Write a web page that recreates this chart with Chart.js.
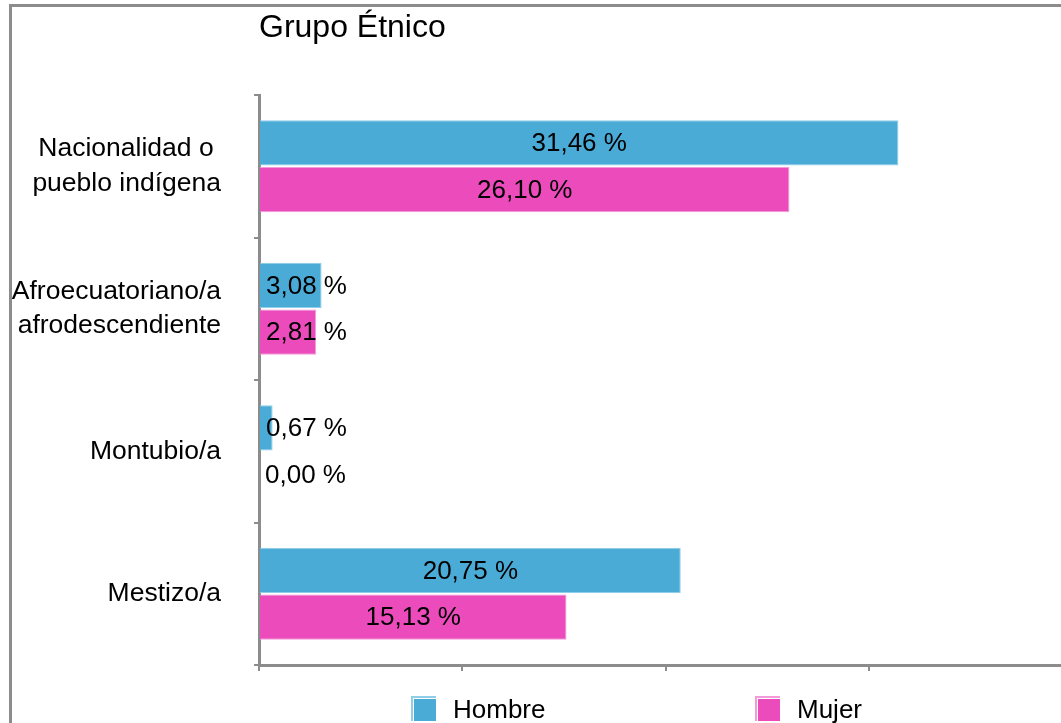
<!DOCTYPE html>
<html lang="es">
<head>
<meta charset="UTF-8">
<title>Grupo Étnico</title>
<script src="https://cdn.jsdelivr.net/npm/chart.js"></script>
<style>
  html, body { margin: 0; padding: 0; background: #fff; overflow: hidden; }
  .frame { position: absolute; left: 9px; top: 4px; width: 1200px; height: 900px;
           border-left: 3px solid #8c8c8c; border-top: 3px solid #8c8c8c; }
  #chart { position: absolute; left: 0; top: 0; }
</style>
</head>
<body>
<div class="frame"></div>
<canvas id="chart" width="1072" height="723"></canvas>
<script>
const categories = [['Nacionalidad o ', 'pueblo indígena'], ['Afroecuatoriano/a', 'afrodescendiente'], 'Montubio/a', 'Mestizo/a'];
const seriesNames = ['Hombre', 'Mujer'];
const hombre = [31.46, 3.08, 0.67, 20.75];
const mujer = [26.10, 2.81, 0.00, 15.13];
const xTicks = [0, 10, 20, 30, 40];

const FONT = '"Liberation Sans", Arial, sans-serif';
const AXIS = '#8c8c8c';

// value labels: centred inside the bar when they fit, else just after the base
const barLabels = {
  id: 'barLabels',
  afterDatasetsDraw(chart) {
    const ctx = chart.ctx;
    ctx.save();
    ctx.font = '26px ' + FONT;
    ctx.fillStyle = '#000';
    ctx.textBaseline = 'middle';
    chart.data.datasets.forEach((ds, i) => {
      chart.getDatasetMeta(i).data.forEach((bar, j) => {
        const txt = ds.data[j].toFixed(2).replace('.', ',') + ' %';
        const w = ctx.measureText(txt).width;
        const len = bar.x - bar.base;
        if (w + 10 < len) {
          ctx.textAlign = 'center';
          ctx.fillText(txt, (bar.x + bar.base) / 2, bar.y + 1);
        } else {
          ctx.textAlign = 'left';
          ctx.fillText(txt, bar.base + 6, bar.y + 1);
        }
      });
    });
    ctx.restore();
  }
};

// title at the plot's left edge and a spread-out legend at the bottom
const extras = {
  id: 'extras',
  afterDraw(chart) {
    const ctx = chart.ctx;
    const area = chart.chartArea;
    ctx.save();
    ctx.fillStyle = '#000';
    ctx.textAlign = 'left';
    ctx.textBaseline = 'alphabetic';
    ctx.font = '32px ' + FONT;
    ctx.fillText('Grupo Étnico', area.left, 37);

    const startX = [411, 755];
    ctx.font = '26px ' + FONT;
    chart.data.datasets.forEach((ds, i) => {
      const x = startX[i], y = 696;
      ctx.fillStyle = ds.borderColor;
      ctx.fillRect(x, y, 25, 25);
      ctx.fillStyle = '#fff';
      ctx.fillRect(x + 2, y + 2, 23, 23);
      ctx.fillStyle = ds.backgroundColor;
      ctx.fillRect(x + 3, y + 3, 22, 22);
      ctx.fillStyle = '#000';
      ctx.fillText(ds.label, x + 42, 718);
    });
    ctx.restore();
  }
};

new Chart(document.getElementById('chart'), {
  type: 'bar',
  data: {
    labels: categories,
    datasets: [
      { label: seriesNames[0], data: hombre, backgroundColor: '#4babd7', borderColor: '#8fcde9', borderWidth: 1,
        categoryPercentage: 0.655, barPercentage: 0.968 },
      { label: seriesNames[1], data: mujer, backgroundColor: '#ec4bbc', borderColor: '#f49ad8', borderWidth: 1,
        categoryPercentage: 0.655, barPercentage: 0.968 }
    ]
  },
  options: {
    indexAxis: 'y',
    responsive: false,
    animation: false,
    layout: { padding: { top: 95, right: 0, bottom: 0, left: 0 } },
    plugins: { legend: { display: false }, title: { display: false }, tooltip: { enabled: false } },
    scales: {
      x: {
        min: xTicks[0], max: xTicks[xTicks.length - 1],
        afterBuildTicks: s => { s.ticks = xTicks.map(v => ({ value: v })); },
        afterFit: s => { s.height = 58; s.paddingLeft = 0; s.paddingRight = 0; },
        ticks: { display: false },
        grid: { drawOnChartArea: false, drawTicks: true, tickLength: 6, color: AXIS, lineWidth: 2 },
        border: { display: true, color: AXIS, width: 3 }
      },
      y: {
        afterFit: s => { s.width = 259; s.paddingTop = 0; s.paddingBottom = 0; },
        ticks: { color: '#000', padding: 33, font: { family: FONT, size: 26.5, lineHeight: 1.3 } },
        grid: { drawOnChartArea: false, drawTicks: true, tickLength: 5, color: AXIS, lineWidth: 2, offset: true },
        border: { display: true, color: AXIS, width: 3 }
      }
    }
  },
  plugins: [barLabels, extras]
});
</script>
</body>
</html>
